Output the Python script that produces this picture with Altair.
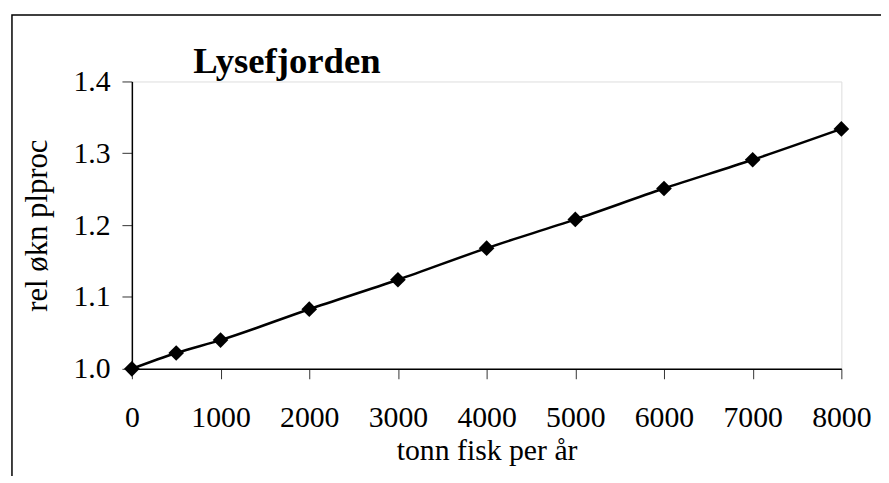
import altair as alt
import pandas as pd

chart_title = "Lysefjorden"
tonn = [0, 500, 1000, 2000, 3000, 4000, 5000, 6000, 7000, 8000]
rel_okn = [1.000, 1.022, 1.040, 1.083, 1.124, 1.168, 1.208, 1.251, 1.291, 1.334]
x_ticks = [0, 1000, 2000, 3000, 4000, 5000, 6000, 7000, 8000]
y_ticks = [1.0, 1.1, 1.2, 1.3, 1.4]

df = pd.DataFrame({"tonn": tonn, "rel": rel_okn})

FONT = "Liberation Serif"

x = alt.X("tonn:Q", title="tonn fisk per år",
          scale=alt.Scale(domain=[0, 8000], nice=False, zero=False),
          axis=alt.Axis(values=x_ticks, format="d", grid=False, tickSize=10,
                        labelPadding=24, titlePadding=4, labelFontSize=30,
                        titleFontSize=30, labelFont=FONT, titleFont=FONT,
                        titleFontWeight="normal", domainColor="black",
                        tickColor="#333", labelColor="black", titleColor="black",
                        domainWidth=1.5, labelFlush=False))
y = alt.Y("rel:Q", title="rel økn plproc",
          scale=alt.Scale(domain=[1.0, 1.4], nice=False, zero=False),
          axis=alt.Axis(values=y_ticks, format=".1f", grid=False, tickSize=10,
                        labelPadding=12, titlePadding=20, labelFontSize=30,
                        titleFontSize=31, labelFont=FONT, titleFont=FONT,
                        titleFontWeight="normal", domainColor="black",
                        tickColor="#333", labelColor="black", titleColor="black",
                        domainWidth=1.5, labelFlush=False))

frame = alt.Chart(alt.Data(values=[{"a": 1}])).mark_rect(
    filled=False, stroke="black", strokeWidth=1.5
).encode(x=alt.value(-121), x2=alt.value(900), y=alt.value(-67), y2=alt.value(600))

title_txt = alt.Chart(alt.Data(values=[{"t": chart_title}])).mark_text(
    align="left", baseline="alphabetic", font=FONT, fontSize=37, fontWeight="bold", color="black"
).encode(text="t:N", x=alt.value(62), y=alt.value(-9))

line = alt.Chart(df).mark_line(color="black", strokeWidth=2.5, interpolate="monotone").encode(x=x, y=y)
pts = alt.Chart(df).mark_point(shape="diamond", filled=True, color="black", size=250, opacity=1).encode(x=x, y=y)

chart = alt.layer(frame, title_txt, line, pts).properties(
    width=716, height=290,
    autosize="none",
    padding={"left": 125, "top": 72, "right": 40, "bottom": 106},
).configure_view(stroke=None).configure(background="white")

chart.save("out.html", embed_options={"renderer": "svg", "actions": False})
